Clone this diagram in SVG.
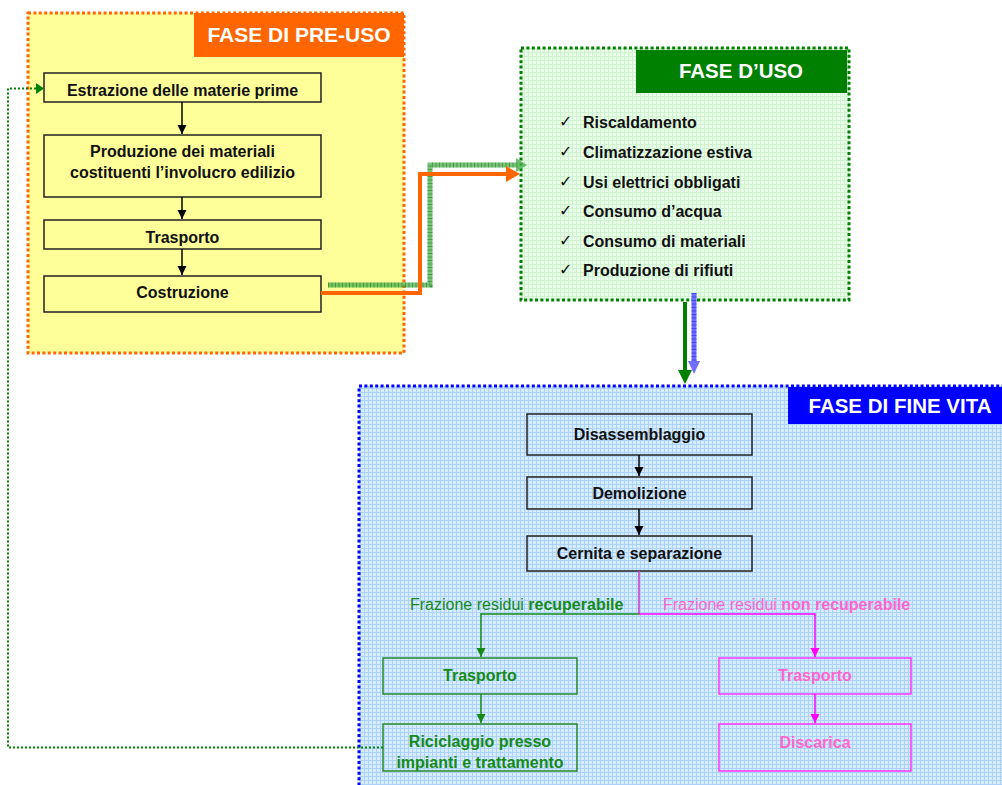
<svg xmlns="http://www.w3.org/2000/svg" width="1002" height="785" viewBox="0 0 1002 785">
<defs>
<style>
text{font-family:"Liberation Sans",Arial,sans-serif}
.b{font-weight:bold}
.t16{font-size:16px}
.c{text-anchor:middle}
.box{fill:none;stroke:#222;stroke-width:1.5}
.gbox{fill:none;stroke:#2a8a2a;stroke-width:1.5}
.mbox{fill:none;stroke:#FF33FF;stroke-width:1.5}
.title{font-weight:bold;fill:#fff;text-anchor:middle}
.chk{font-family:"DejaVu Sans",sans-serif;font-size:16px;fill:#111}
</style>
<pattern id="gGrid" width="4" height="4" patternUnits="userSpaceOnUse"><rect width="4" height="4" fill="#EAFFEA"/><path d="M0 0.5H4M0.5 0V4" stroke="#CFF3CF" stroke-width="1"/></pattern>
<pattern id="bGrid" width="4" height="4" patternUnits="userSpaceOnUse"><rect width="4" height="4" fill="#D8ECFF"/><path d="M0 0.5H4M0.5 0V4" stroke="#AAD2FA" stroke-width="1"/></pattern>
<marker id="ak" markerWidth="10" markerHeight="10" refX="9" refY="4.5" orient="auto" markerUnits="userSpaceOnUse"><path d="M0,0 L9,4.5 L0,9 Z" fill="#000"/></marker>
<marker id="ag" markerWidth="10" markerHeight="10" refX="9" refY="4.5" orient="auto" markerUnits="userSpaceOnUse"><path d="M0,0 L9,4.5 L0,9 Z" fill="#168a16"/></marker>
<marker id="am" markerWidth="10" markerHeight="10" refX="9" refY="4.5" orient="auto" markerUnits="userSpaceOnUse"><path d="M0,0 L9,4.5 L0,9 Z" fill="#FF00FF"/></marker>
</defs>
<rect width="1002" height="785" fill="#fff"/>

<!-- containers -->
<g id="fase-pre-uso">
<rect x="28" y="13" width="376" height="340" fill="#FFFF99" stroke="#FF6600" stroke-width="3" stroke-dasharray="3 2.4"/>
<rect x="194" y="13" width="210" height="44" fill="#FF6600"/>
<text class="title" x="299" y="42" style="font-size:21px">FASE DI PRE-USO</text>
</g>
<g id="fase-uso">
<rect x="521" y="48" width="328" height="252" fill="url(#gGrid)" stroke="#008000" stroke-width="3" stroke-dasharray="3 2.4"/>
<rect x="636" y="50" width="211" height="43" fill="#008000"/>
<text class="title" x="741" y="78" style="font-size:20.5px">FASE D’USO</text>
<g class="b t16" fill="#111">
<text x="583" y="128">Riscaldamento</text>
<text x="583" y="158">Climatizzazione estiva</text>
<text x="583" y="188">Usi elettrici obbligati</text>
<text x="583" y="217">Consumo d’acqua</text>
<text x="583" y="247">Consumo di materiali</text>
<text x="583" y="276">Produzione di rifiuti</text>
</g>
<g>
<text class="chk" x="559" y="127">✓</text>
<text class="chk" x="559" y="157">✓</text>
<text class="chk" x="559" y="187">✓</text>
<text class="chk" x="559" y="216">✓</text>
<text class="chk" x="559" y="246">✓</text>
<text class="chk" x="559" y="275">✓</text>
</g>
</g>
<g id="fase-fine-vita">
<rect x="359" y="386" width="660" height="420" fill="url(#bGrid)" stroke="#0000FF" stroke-width="3" stroke-dasharray="3 2.4"/>
<rect x="788" y="387" width="216" height="37" fill="#0000FF"/>
<text class="title" x="900" y="413" style="font-size:20.5px">FASE DI FINE VITA</text>
</g>

<!-- nodes -->
<g id="n-estrazione"><rect class="box" x="44" y="73" width="277" height="29"/><text class="b t16 c" x="182.5" y="96" fill="#111">Estrazione delle materie prime</text></g>
<g id="n-produzione"><rect class="box" x="44" y="135" width="277" height="62"/><text class="b t16 c" x="182.5" y="157" fill="#111">Produzione dei materiali</text><text class="b t16 c" x="182.5" y="178" fill="#111">costituenti l’involucro edilizio</text></g>
<g id="n-trasporto1"><rect class="box" x="44" y="220" width="277" height="29"/><text class="b t16 c" x="182.5" y="243" fill="#111">Trasporto</text></g>
<g id="n-costruzione"><rect class="box" x="44" y="276" width="277" height="36"/><text class="b t16 c" x="182.5" y="298" fill="#111">Costruzione</text></g>

<g id="n-disassemblaggio"><rect class="box" x="527" y="414" width="225" height="41"/><text class="b t16 c" x="639.5" y="440" fill="#111">Disassemblaggio</text></g>
<g id="n-demolizione"><rect class="box" x="527" y="477" width="225" height="32"/><text class="b t16 c" x="639.5" y="499" fill="#111">Demolizione</text></g>
<g id="n-cernita"><rect class="box" x="527" y="536" width="225" height="35"/><text class="b t16 c" x="639.5" y="559" fill="#111">Cernita e separazione</text></g>

<g id="n-trasporto-rec"><rect class="gbox" x="383" y="658" width="194" height="36"/><text class="b t16 c" x="480" y="681" fill="#168a16">Trasporto</text></g>
<g id="n-riciclaggio"><rect class="gbox" x="383" y="724" width="194" height="47"/><text class="b t16 c" x="480" y="747" fill="#168a16">Riciclaggio presso</text><text class="b t16 c" x="480" y="768" fill="#168a16">impianti e trattamento</text></g>
<g id="n-trasporto-nonrec"><rect class="mbox" x="719" y="658" width="192" height="36"/><text class="b t16 c" x="815" y="681" fill="#FF66CC">Trasporto</text></g>
<g id="n-discarica"><rect class="mbox" x="719" y="724" width="192" height="47"/><text class="b t16 c" x="815" y="748" fill="#FF66CC">Discarica</text></g>

<!-- connectors -->
<g id="connectors">
<g stroke="#000" stroke-width="1.5" fill="none">
<line x1="182" y1="102" x2="182" y2="134" marker-end="url(#ak)"/>
<line x1="182" y1="197" x2="182" y2="219" marker-end="url(#ak)"/>
<line x1="182" y1="249" x2="182" y2="275" marker-end="url(#ak)"/>
<line x1="639" y1="455" x2="639" y2="476" marker-end="url(#ak)"/>
<line x1="639" y1="509" x2="639" y2="535" marker-end="url(#ak)"/>
</g>
<path d="M639 571 V614" stroke="#CC33CC" stroke-width="1.5" fill="none"/>
<path d="M639 614 H481 V657" stroke="#168a16" stroke-width="1.5" fill="none" marker-end="url(#ag)"/>
<path d="M639 614 H815 V657" stroke="#FF00FF" stroke-width="1.5" fill="none" marker-end="url(#am)"/>
<line x1="481" y1="694" x2="481" y2="723" stroke="#168a16" stroke-width="1.5" marker-end="url(#ag)"/>
<line x1="815" y1="694" x2="815" y2="723" stroke="#FF00FF" stroke-width="1.5" marker-end="url(#am)"/>
<text class="t16" x="410" y="610" fill="#168a16">Frazione residui <tspan class="b">recuperabile</tspan></text>
<text class="t16" x="663" y="610" fill="#FF66CC">Frazione residui <tspan class="b">non recuperabile</tspan></text>

<!-- feedback dotted -->
<path d="M383 747.5 H8 V88.5 H36" stroke="#008000" stroke-width="2" stroke-dasharray="2 2" fill="none"/>
<path d="M36 83 L44 88.5 L36 94 Z" fill="#008000"/>

<!-- green hatched pre-uso to uso -->
<path d="M328 285 H430 V165 H518" stroke="#4CAF4C" stroke-opacity="0.75" stroke-width="5" fill="none"/>
<path d="M328 285 H430 V165 H518" stroke="#2A7F2A" stroke-opacity="0.6" stroke-width="5" stroke-dasharray="1 2.5" fill="none"/>
<path d="M516 158 L527 165 L516 172 Z" fill="#4CAF4C" fill-opacity="0.8"/>
<!-- orange -->
<path d="M321 293 H420 V174 H508" stroke="#FF6600" stroke-width="4" fill="none"/>
<path d="M506 166 L520 174 L506 182 Z" fill="#FF6600"/>

<!-- down arrows -->
<line x1="685" y1="302" x2="685" y2="372" stroke="#008000" stroke-width="4"/>
<path d="M678 370 L685 384 L692 370 Z" fill="#008000"/>
<line x1="694" y1="293" x2="694" y2="364" stroke="#6F6FFF" stroke-width="5"/>
<line x1="694" y1="293" x2="694" y2="364" stroke="#2A2AEE" stroke-opacity="0.6" stroke-width="5" stroke-dasharray="1 2.5"/>
<path d="M688 361 L694 374 L700 361 Z" fill="#6F6FFF"/>
</g>
</svg>
